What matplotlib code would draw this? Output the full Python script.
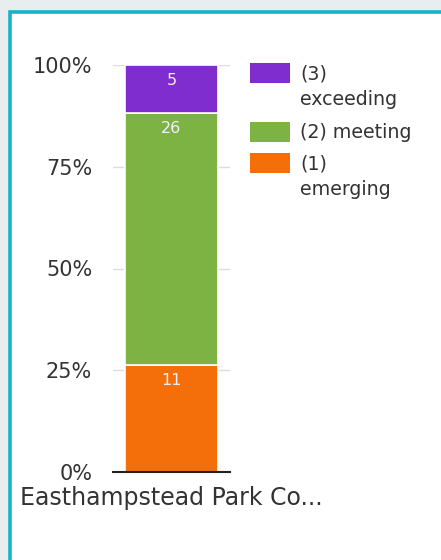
import matplotlib
matplotlib.use("Agg")
import matplotlib.pyplot as plt
from matplotlib.patches import Rectangle
from matplotlib.ticker import FixedLocator, FuncFormatter

# Data
categories = ["Easthampstead Park Co..."]
levels = ["(1)\nemerging", "(2) meeting", "(3)\nexceeding"]
counts = [11, 26, 5]
colors = ["#f46f0a", "#7db343", "#7f2dcf"]
ytick_values = [0, 25, 50, 75, 100]

W, H = 441, 560
fig = plt.figure(figsize=(W / 100, H / 100), dpi=100)
fig.patch.set_facecolor("#e8edef")

# white card with a teal frame on the top and left
fig.add_artist(Rectangle((9.5 / W, -0.1), 1.2, (H - 11.5) / H + 0.1,
                         transform=fig.transFigure, facecolor="white",
                         edgecolor="#17b3c9", linewidth=2.6, zorder=0))

ax = fig.add_axes([113 / W, 1 - 472 / H, 117 / W, 407 / H])
ax.set_facecolor("none")

total = sum(counts)
text_col = "#333333"
bottom = 0.0
for cnt, col in zip(counts, colors):
    pct = cnt / total * 100
    ax.bar(0, pct, bottom=bottom, width=0.8, color=col,
           edgecolor="white", linewidth=1.2, zorder=3)
    ax.text(0, bottom + pct - 1.9, str(cnt), ha="center", va="top",
            color="#f4f0f6", fontsize=11.5, zorder=4)
    bottom += pct

ax.set_xlim(-0.5, 0.5)
ax.set_ylim(0, 100)
ax.yaxis.set_major_locator(FixedLocator(ytick_values))
ax.yaxis.set_major_formatter(FuncFormatter(lambda v, p: f"{v:.0f}%"))
ax.grid(axis="y", color="#dddddd", linewidth=1, zorder=0)
ax.set_xticks([0])
ax.set_xticklabels(categories)
ax.tick_params(axis="y", length=0, pad=15, labelsize=15, labelcolor=text_col)
ax.tick_params(axis="x", length=0, pad=10, labelsize=17, labelcolor=text_col)
for s in ["top", "right", "left"]:
    ax.spines[s].set_visible(False)
ax.spines["bottom"].set_color("#222222")
ax.spines["bottom"].set_linewidth(1.5)
ax.spines["bottom"].set_zorder(5)

# legend, top entry first
leg_tops = [63, 122, 153]
for ytop, lab, col in zip(leg_tops, levels[::-1], colors[::-1]):
    fig.add_artist(Rectangle((250 / W, 1 - (ytop + 20) / H), 40 / W, 20 / H,
                             transform=fig.transFigure, facecolor=col,
                             edgecolor="none"))
    fig.text(300 / W, 1 - (ytop + 1) / H, lab, ha="left", va="top",
             fontsize=13.7, color=text_col, linespacing=1.45)

fig.savefig("out.png", dpi=100, facecolor=fig.get_facecolor())
